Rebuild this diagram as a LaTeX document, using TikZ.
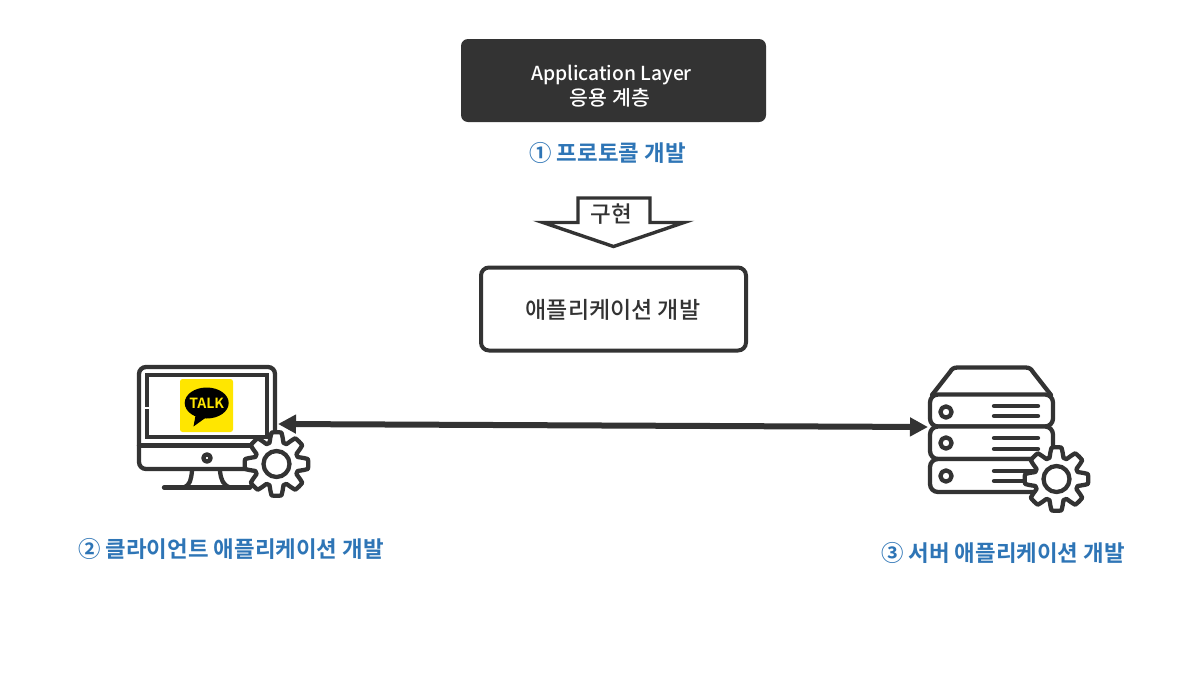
\documentclass[tikz,border=0pt]{standalone}
\usepackage{fontspec}
\setmainfont{Noto Sans CJK KR}[Scale=1]
\newfontfamily\krb{Noto Sans CJK KR Bold}
\newfontfamily\krm{Noto Sans CJK KR Medium}
\usetikzlibrary{arrows.meta}
\definecolor{ink}{HTML}{333333}
\definecolor{bluetxt}{HTML}{2E75B6}
\definecolor{kakao}{HTML}{FFE600}
\tikzset{
  icon/.style={draw=ink,line width=4.3pt,line join=round,line cap=round},
  bluelabel/.style={text=bluetxt,font=\krb\fontsize{22.4}{26}\selectfont,inner sep=0pt},
  darkbox/.style={fill=ink,rounded corners=7pt,minimum width=305pt,minimum height=83pt,inner sep=0pt,text=white,align=center},
  whitebox/.style={draw=ink,fill=white,line width=4pt,rounded corners=8pt,minimum width=265pt,minimum height=83pt,inner sep=0pt,text=ink},
  link/.style={draw=ink,line width=6pt,{Triangle[length=18pt,width=18pt]}-{Triangle[length=18pt,width=18pt]}},
}
\newcommand{\gearicon}[2]{%
  \draw[icon,fill=white] plot[domain=0:360,samples=289,variable=\t]
    ({#1+(27+4.8*max(-1,min(1,1.7*cos(8*\t)+0.45)))*cos(\t)},{#2+(27+4.8*max(-1,min(1,1.7*cos(8*\t)+0.45)))*sin(\t)}) -- cycle;
  \draw[icon,fill=white] (#1,#2) circle (13pt);
}
\begin{document}
\begin{tikzpicture}[x=1pt,y=-1pt]
\useasboundingbox[fill=white] (0,0) rectangle (1195,694);
% top
\node[darkbox] (layer) at (613.5,80.5) {};
\node[inner sep=0pt,text=white,font=\krm\fontsize{19.3}{24}\selectfont] (layerA) at (611.5,75) {Application Layer};
\node[inner sep=0pt,text=white,font=\krm\fontsize{20.5}{24}\selectfont] (layerB) at (610,98) {응용 계층};
\node[bluelabel] (proto) at (607.5,153) {① 프로토콜 개발};
% block arrow
\draw[draw=ink,fill=white,line width=3.4pt,miter limit=10]
  (578,198) -- (650,198) -- (650,222.5) -- (684,222.5) -- (613.5,246.5) -- (543,222.5) -- (578,222.5) -- cycle;
\node[inner sep=0pt,text=ink,font=\krm\fontsize{22.5}{26}\selectfont] (impl) at (611.5,214.5) {구현};
\node[whitebox] (app) at (613.5,309) {};
\node[inner sep=0pt,text=ink,font=\krm\fontsize{23}{26}\selectfont] (applabel) at (613,310) {애플리케이션 개발};
% monitor
\draw[icon,fill=white,rounded corners=7pt] (139,367) rectangle (275,469);
\draw[draw=ink,line width=4pt] (146.5,375) rectangle (267,437);
\draw[icon] (139,445.5) -- (275,445.5);
\draw[icon] (207,458) circle (3.6pt);
\draw[icon] (192,471) .. controls (191,480) and (190,485) .. (184,487.5);
\draw[icon] (220,471) .. controls (221,480) and (223,485) .. (230,487.5);
\draw[icon] (164,487.5) -- (250,487.5);
\fill[white] (144,406.5) rectangle (148.5,409);
\fill[kakao,rounded corners=2.5pt] (180,379) rectangle (233,432);
\fill[black] (206.7,403) ellipse (22pt and 15.5pt);
\fill[black] (196,413) -- (193.5,426.5) -- (208,416) -- cycle;
\node[inner sep=0pt,text=kakao,font=\krb\fontsize{14}{14}\selectfont] (talk) at (206.7,403.5) {TALK};
\gearicon{276.5}{464}
% server
\draw[icon,fill=white] (932,395) -- (950,372) .. controls (952,368.5) and (954,367.5) .. (958,367.5) -- (1025,367.5) .. controls (1029,367.5) and (1031,368.5) .. (1033,372) -- (1051,395);
\draw[icon,fill=white,rounded corners=8pt] (930,394.5) rectangle (1053,426.5);
\draw[icon,fill=white,rounded corners=8pt] (930,426.5) rectangle (1053,459);
\draw[icon,fill=white,rounded corners=8pt] (930,459) rectangle (1053,492);
\foreach \yy in {412,443,476} {\draw[icon] (946,\yy) circle (5.6pt);}
\foreach \yy in {406,416,438,449,471,481} {\draw[icon] (994,\yy) -- (1038,\yy);}
\gearicon{1056.5}{479}
% connector
\coordinate (linkL) at (278,424);
\coordinate (linkR) at (928,427);
\draw[link] (linkL) -- (linkR);
\node[bluelabel] (client) at (231,548.5) {② 클라이언트 애플리케이션 개발};
\node[bluelabel] (server) at (1003,552.5) {③ 서버 애플리케이션 개발};
\end{tikzpicture}
\end{document}
